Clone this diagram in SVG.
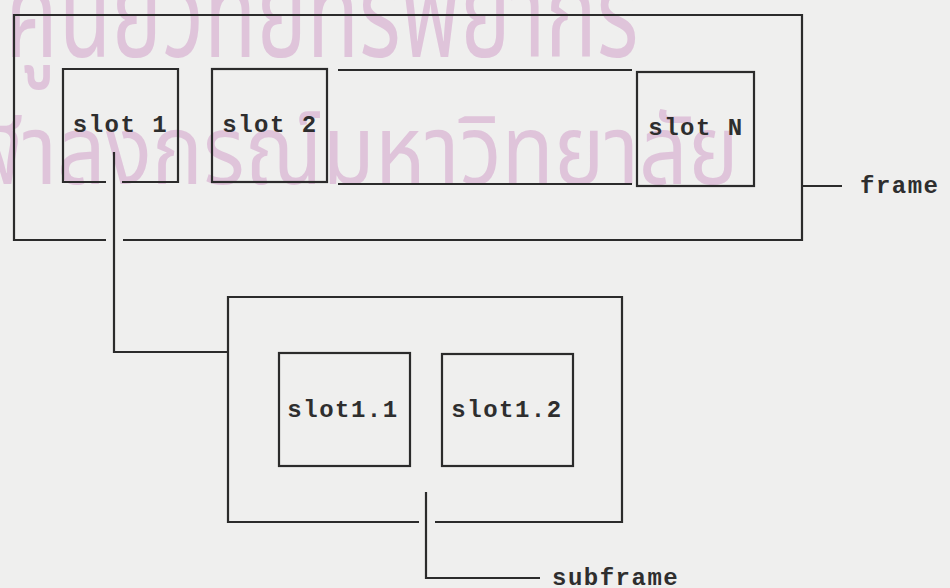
<svg xmlns="http://www.w3.org/2000/svg" width="950" height="588" viewBox="0 0 950 588">
  <style>
    .box { fill: none; stroke: #2b2b2b; stroke-width: 2.2; }
    .ln { fill: none; stroke: #2b2b2b; stroke-width: 2.2; }
    .lbl { font-family: "Liberation Mono", "DejaVu Sans Mono", monospace; font-size: 24px; font-weight: bold; fill: #2e2e2e; letter-spacing: 1.5px; }
    .wm { font-family: "Noto Sans Thai", "Noto Sans", sans-serif; font-size: 96px; fill: #dfc4da; }
  </style>
  <rect x="0" y="0" width="950" height="588" fill="#efefee"/>
  <g id="watermark">
    <text class="wm" x="6" y="44" transform="matrix(0.89,0,0,1.3,0,0)">ศูนย์วิทยทรัพยากร</text>
    <text class="wm" x="-90" y="184" transform="matrix(0.89,0,0,1,0,0)">จุฬาลงกรณ์มหาวิทยาลัย</text>
  </g>
  <g id="frame">
    <path class="ln" d="M106,240 H14 V15 H802 V240 H123"/>
    <text class="lbl" x="860" y="193">frame</text>
  </g>
  <g id="slot1">
    <path class="ln" d="M106,182 H63 V69 H178 V182 H122"/>
    <text class="lbl" x="120.5" y="132" text-anchor="middle">slot 1</text>
  </g>
  <g id="slot2">
    <rect class="box" x="212" y="69" width="115" height="113"/>
    <text class="lbl" x="270" y="132" text-anchor="middle">slot 2</text>
  </g>
  <g id="ellipsis">
    <path class="ln" d="M338,70 H632 M338,184 H632"/>
  </g>
  <g id="slotN">
    <rect class="box" x="637" y="72" width="117" height="114"/>
    <text class="lbl" x="696" y="135" text-anchor="middle">slot N</text>
  </g>
  <g id="subframe">
    <path class="ln" d="M419,522 H228 V297 H622 V522 H435"/>
    <text class="lbl" x="552" y="585">subframe</text>
  </g>
  <g id="slot1_1">
    <rect class="box" x="279" y="353" width="131" height="113"/>
    <text class="lbl" x="343" y="417" text-anchor="middle">slot1.1</text>
  </g>
  <g id="slot1_2">
    <rect class="box" x="442" y="354" width="131" height="112"/>
    <text class="lbl" x="507" y="417" text-anchor="middle">slot1.2</text>
  </g>
  <g id="connectors">
    <path class="ln" d="M802,186 H842"/>
    <path class="ln" d="M114,152 V352 H228"/>
    <path class="ln" d="M426,492 V578 H540"/>
  </g>
</svg>
